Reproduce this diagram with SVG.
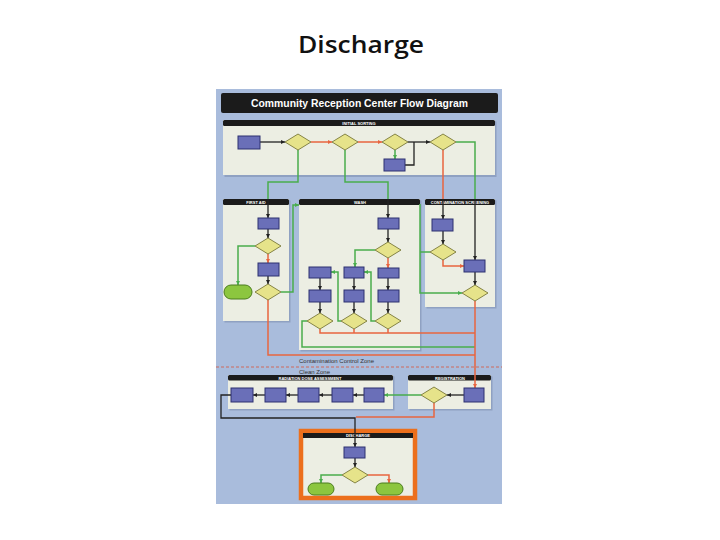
<svg xmlns="http://www.w3.org/2000/svg" width="720" height="540" viewBox="0 0 720 540">
<defs>
<style>
.title{font-family:"Open Sans","Liberation Sans",sans-serif;font-weight:600;font-size:24px;fill:#111}
.pan{fill:#eceee3}
.shd{fill:#7f90b0;opacity:.6}
.hdr{fill:#1b1b1b}
.ht{font-family:"Liberation Sans",Arial,sans-serif;font-weight:700;font-size:4px;fill:#fff;text-anchor:middle}
.box{fill:#6a6fb8;stroke:#2c3170;stroke-width:1}
.dia{fill:#e6e38a;stroke:#6b6a2a;stroke-width:0.8}
.term{fill:#8cc63f;stroke:#4b7d1e;stroke-width:1}
.k{fill:none;stroke:#222;stroke-width:1.3}
.g{fill:none;stroke:#49ad4c;stroke-width:1.5}
.r{fill:none;stroke:#e8653f;stroke-width:1.5}
.zone{font-family:"Liberation Sans",Arial,sans-serif;font-size:6px;fill:#333}
</style>
<marker id="ak" viewBox="0 0 6 6" refX="6" refY="3" markerWidth="4" markerHeight="4" orient="auto" markerUnits="userSpaceOnUse"><path d="M0,0L6,3L0,6z" fill="#222"/></marker>
<marker id="ag" viewBox="0 0 6 6" refX="6" refY="3" markerWidth="4" markerHeight="4" orient="auto" markerUnits="userSpaceOnUse"><path d="M0,0L6,3L0,6z" fill="#49ad4c"/></marker>
<marker id="ar" viewBox="0 0 6 6" refX="6" refY="3" markerWidth="4" markerHeight="4" orient="auto" markerUnits="userSpaceOnUse"><path d="M0,0L6,3L0,6z" fill="#e8653f"/></marker>
</defs>
<rect width="720" height="540" fill="#fff"/>
<text class="title" x="361" y="53" text-anchor="middle" textLength="126" lengthAdjust="spacingAndGlyphs">Discharge</text>

<g id="poster-background">
<rect x="216" y="89" width="286" height="415" fill="#a9bcdc"/>
<rect x="221" y="93" width="277" height="20" rx="2" fill="#1b1b1b"/>
<text x="359.5" y="107" text-anchor="middle" font-family="Liberation Sans, Arial, sans-serif" font-weight="700" font-size="11" fill="#fff" textLength="217" lengthAdjust="spacingAndGlyphs">Community Reception Center Flow Diagram</text>
</g>

<g id="panels">
<g id="panel-initial-sorting">
<rect class="shd" x="224.5" y="121.5" width="272" height="55.5"/>
<rect class="pan" x="223" y="120" width="272" height="55"/>
<rect class="hdr" x="223" y="120" width="272" height="6" rx="1.5"/>
<text class="ht" x="359" y="124.8">INITIAL SORTING</text>
</g>
<g id="panel-first-aid">
<rect class="shd" x="224.5" y="200.5" width="66" height="122"/>
<rect class="pan" x="223" y="199" width="66" height="122"/>
<rect class="hdr" x="223" y="199" width="66" height="6" rx="1.5"/>
<text class="ht" x="256" y="203.8">FIRST AID</text>
</g>
<g id="panel-wash">
<rect class="shd" x="300.5" y="200.5" width="121" height="151"/>
<rect class="pan" x="299" y="199" width="121" height="151"/>
<rect class="hdr" x="299" y="199" width="121" height="6" rx="1.5"/>
<text class="ht" x="360" y="203.8">WASH</text>
</g>
<g id="panel-contamination-screening">
<rect class="shd" x="426.5" y="200.5" width="70" height="108"/>
<rect class="pan" x="425" y="199" width="70" height="108"/>
<rect class="hdr" x="425" y="199" width="70" height="6" rx="1.5"/>
<text class="ht" x="460" y="203.8">CONTAMINATION SCREENING</text>
</g>
<g id="panel-radiation-dose">
<rect class="shd" x="229.5" y="376.5" width="165" height="34"/>
<rect class="pan" x="228" y="375" width="165" height="34"/>
<rect class="hdr" x="228" y="375" width="165" height="5.5" rx="1.5"/>
<text class="ht" x="310" y="379.5">RADIATION DOSE ASSESSMENT</text>
</g>
<g id="panel-registration">
<rect class="shd" x="409.5" y="376.5" width="83" height="34"/>
<rect class="pan" x="408" y="375" width="83" height="34"/>
<rect class="hdr" x="408" y="375" width="83" height="5.5" rx="1.5"/>
<text class="ht" x="450" y="379.5">REGISTRATION</text>
</g>
<g id="panel-discharge">
<rect x="301" y="431" width="114" height="67" fill="#eceee3" stroke="#ec6f1c" stroke-width="4.5"/>
<rect class="hdr" x="303" y="433" width="110" height="5"/>
<text class="ht" x="358" y="437.3">DISCHARGE</text>
</g>
</g>

<g id="zones">
<line x1="216" y1="367" x2="502" y2="367" stroke="#d2604c" stroke-width="0.9" stroke-dasharray="3,2"/>
<text class="zone" x="299" y="363">Contamination Control Zone</text>
<text class="zone" x="299" y="374">Clean Zone</text>
</g>

<g id="connectors">
<path class="k" d="M260,142H285" marker-end="url(#ak)"/>
<path class="r" d="M311,142H332" marker-end="url(#ar)" stroke-width="1"/>
<path class="r" d="M358,142H382" marker-end="url(#ar)" stroke-width="1"/>
<path class="k" d="M408,142H430" marker-end="url(#ak)"/>
<path class="g" d="M395,150V159" marker-end="url(#ag)"/>
<path class="k" d="M405,165H414V142"/>
<path class="g" d="M298,150V182H268V199"/>
<path class="k" d="M268,199V218" marker-end="url(#ak)"/>
<path class="g" d="M345,150V182H388V199"/>
<path class="k" d="M388,199V218" marker-end="url(#ak)"/>
<path class="r" d="M443,150V199" stroke-width="1"/>
<path class="k" d="M443,199V219" marker-end="url(#ak)"/>
<path class="g" d="M456,142H475V199" stroke-width="1"/>
<path class="k" d="M475,199V260" marker-end="url(#ak)" stroke-width="1.6"/>
<path class="k" d="M268,229V238" marker-end="url(#ak)"/>
<path class="r" d="M268,254V263" marker-end="url(#ar)"/>
<path class="k" d="M268,276V284" marker-end="url(#ak)"/>
<path class="g" d="M255,246H238V285" marker-end="url(#ag)"/>
<path class="g" d="M281,292H293V205H299" marker-end="url(#ag)"/>
<path class="r" d="M268,300V355H475"/>
<path class="k" d="M388,229V242" marker-end="url(#ak)"/>
<path class="r" d="M388,258V268" marker-end="url(#ar)"/>
<path class="g" d="M375,250H355V267" marker-end="url(#ag)"/>
<path class="k" d="M320,278V290" marker-end="url(#ak)"/>
<path class="k" d="M354,278V290" marker-end="url(#ak)"/>
<path class="k" d="M388,278V290" marker-end="url(#ak)"/>
<path class="k" d="M320,302V313" marker-end="url(#ak)"/>
<path class="k" d="M354,302V313" marker-end="url(#ak)"/>
<path class="k" d="M388,302V313" marker-end="url(#ak)"/>
<path class="g" d="M375,321H371V272H364" marker-end="url(#ag)"/>
<path class="g" d="M341,321H338V272H331" marker-end="url(#ag)"/>
<path class="g" d="M307,321H302V347H475"/>
<path class="r" d="M320,329V333H475"/>
<path class="r" d="M354,329V333"/>
<path class="r" d="M388,329V333"/>
<path class="k" d="M443,231V244" marker-end="url(#ak)"/>
<path class="r" d="M443,260V266H464" marker-end="url(#ar)"/>
<path class="g" d="M430,252H420"/>
<path class="g" d="M420,204V293H462" marker-end="url(#ag)"/>
<path class="k" d="M475,272V285" marker-end="url(#ak)"/>
<path class="r" d="M475,301V388" marker-end="url(#ar)"/>
<path class="k" d="M464,395H447" marker-end="url(#ak)"/>
<path class="g" d="M421,395H384" marker-end="url(#ag)"/>
<path class="r" d="M434,403V417H356"/>
<path class="k" d="M364,395H353" marker-end="url(#ak)"/>
<path class="k" d="M332,395H319" marker-end="url(#ak)"/>
<path class="k" d="M298,395H286" marker-end="url(#ak)"/>
<path class="k" d="M265,395H253" marker-end="url(#ak)"/>
<path class="k" d="M231,395H221V418H355V447" marker-end="url(#ak)"/>
<path class="k" d="M355,458V467" marker-end="url(#ak)"/>
<path class="g" d="M342,475H321V483" marker-end="url(#ag)"/>
<path class="r" d="M368,475H389V483" marker-end="url(#ar)"/>
</g>

<g id="nodes">
<g id="is-start"><rect class="box" x="238" y="136" width="22" height="13"/></g>
<g id="is-d1"><path class="dia" d="M298,134L311,142L298,150L285,142Z"/></g>
<g id="is-d2"><path class="dia" d="M345,134L358,142L345,150L332,142Z"/></g>
<g id="is-d3"><path class="dia" d="M395,134L408,142L395,150L382,142Z"/></g>
<g id="is-d4"><path class="dia" d="M443,134L456,142L443,150L430,142Z"/></g>
<g id="is-box2"><rect class="box" x="384" y="159" width="21" height="12"/></g>
<g id="fa-box1"><rect class="box" x="258" y="218" width="21" height="11"/></g>
<g id="fa-d1"><path class="dia" d="M268,238L281,246L268,254L255,246Z"/></g>
<g id="fa-box2"><rect class="box" x="258" y="263" width="21" height="13"/></g>
<g id="fa-d2"><path class="dia" d="M268,284L281,292L268,300L255,292Z"/></g>
<g id="fa-term"><rect class="term" x="224" y="285" width="28" height="14" rx="7"/></g>
<g id="w-box1"><rect class="box" x="378" y="218" width="21" height="11"/></g>
<g id="w-d1"><path class="dia" d="M388,242L401,250L388,258L375,250Z"/></g>
<g id="w-box-l1"><rect class="box" x="309" y="267" width="22" height="11"/></g>
<g id="w-box-c1"><rect class="box" x="344" y="267" width="20" height="11"/></g>
<g id="w-box-r1"><rect class="box" x="378" y="268" width="21" height="10"/></g>
<g id="w-box-l2"><rect class="box" x="309" y="290" width="22" height="12"/></g>
<g id="w-box-c2"><rect class="box" x="344" y="290" width="20" height="12"/></g>
<g id="w-box-r2"><rect class="box" x="378" y="290" width="21" height="12"/></g>
<g id="w-d-l"><path class="dia" d="M320,313L333,321L320,329L307,321Z"/></g>
<g id="w-d-c"><path class="dia" d="M354,313L367,321L354,329L341,321Z"/></g>
<g id="w-d-r"><path class="dia" d="M388,313L401,321L388,329L375,321Z"/></g>
<g id="cs-box1"><rect class="box" x="432" y="219" width="21" height="12"/></g>
<g id="cs-d1"><path class="dia" d="M443,244L456,252L443,260L430,252Z"/></g>
<g id="cs-box2"><rect class="box" x="464" y="260" width="21" height="12"/></g>
<g id="cs-d2"><path class="dia" d="M475,285L488,293L475,301L462,293Z"/></g>
<g id="reg-box"><rect class="box" x="464" y="388" width="20" height="14"/></g>
<g id="reg-d"><path class="dia" d="M434,387L447,395L434,403L421,395Z"/></g>
<g id="rda-box1"><rect class="box" x="231" y="388" width="22" height="14"/></g>
<g id="rda-box2"><rect class="box" x="265" y="388" width="21" height="14"/></g>
<g id="rda-box3"><rect class="box" x="298" y="388" width="21" height="14"/></g>
<g id="rda-box4"><rect class="box" x="332" y="388" width="21" height="14"/></g>
<g id="rda-box5"><rect class="box" x="364" y="388" width="20" height="14"/></g>
<g id="dc-box"><rect class="box" x="344" y="447" width="21" height="11"/></g>
<g id="dc-d"><path class="dia" d="M355,467L368,475L355,483L342,475Z"/></g>
<g id="dc-term-l"><rect class="term" x="308" y="483" width="26" height="12" rx="6"/></g>
<g id="dc-term-r"><rect class="term" x="376" y="483" width="27" height="12" rx="6"/></g>
</g>
</svg>
